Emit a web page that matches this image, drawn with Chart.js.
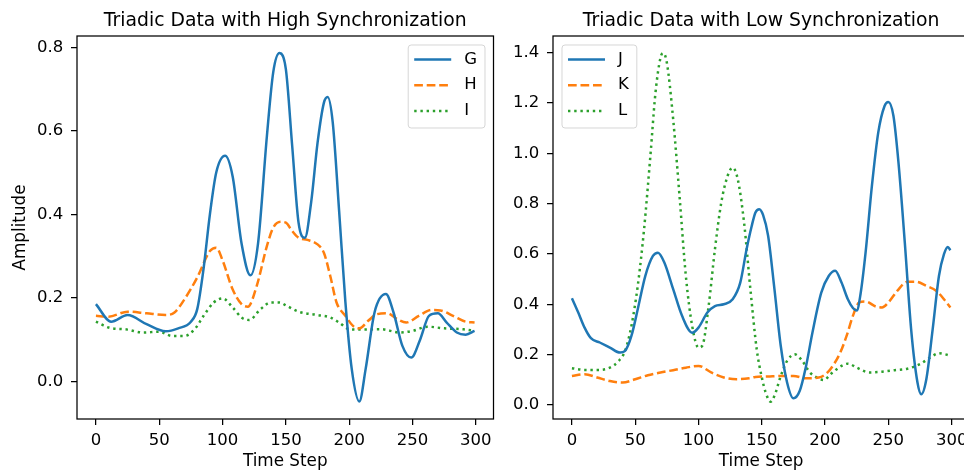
<!DOCTYPE html>
<html>
<head>
<meta charset="utf-8">
<script src="https://cdn.jsdelivr.net/npm/chart.js@4"></script>
<style>
  html, body { margin: 0; padding: 0; background: #fff; overflow: hidden; }
  #wrap { position: relative; width: 964px; height: 473px; overflow: hidden; }
  canvas { position: absolute; top: 0; }
  #high { left: 0; }
  #low { left: 500px; }
</style>
</head>
<body>
<div id="wrap">
  <canvas id="high" width="500" height="473"></canvas>
  <canvas id="low" width="480" height="473"></canvas>
</div>
<script>
// ticks
const xTicks = [0, 50, 100, 150, 200, 250, 300];
const highYTicks = [0, 0.2, 0.4, 0.6, 0.8];
const lowYTicks = [0, 0.2, 0.4, 0.6, 0.8, 1.0, 1.2, 1.4];

// high synchronization
const gTime = [0,12,25,40,55,65,75,80,85,90,95,102,108,115,122,128,135,140,145,150,155,160,165,170,175,180,183,187,192,197,202,208,213,220,229,235,242,249,256,263,270,277,285,292,299];
const gVal  = [.185,.143,.159,.137,.120,.127,.143,.173,.27,.40,.50,.54,.49,.33,.254,.33,.587,.74,.786,.747,.563,.38,.344,.43,.571,.667,.681,.62,.41,.19,.03,-.048,.03,.165,.209,.165,.085,.057,.10,.157,.163,.141,.117,.112,.121];

const hTime = [0,10,25,40,55,62,70,80,90,95,100,108,115,120,127,135,140,146,150,155,160,167,175,180,185,190,197,203,208,215,222,230,238,245,255,265,272,282,292,299];
const hVal  = [.157,.155,.167,.163,.159,.165,.197,.249,.312,.32,.29,.22,.185,.179,.229,.324,.368,.382,.38,.36,.344,.339,.328,.308,.253,.189,.157,.133,.127,.145,.161,.163,.149,.141,.157,.171,.17,.157,.143,.141];

const iTime = [0,10,25,37,50,60,70,78,85,93,100,108,115,121,130,138,145,150,160,175,185,192,200,210,225,240,250,262,275,290,299];
const iVal  = [.143,.129,.124,.117,.119,.109,.109,.125,.157,.189,.199,.177,.153,.147,.173,.189,.189,.182,.167,.159,.153,.141,.125,.124,.125,.117,.121,.131,.127,.125,.121];

// low synchronization
const jTime = [0,5,10,15,22,30,38,42,47,52,58,64,68,73,80,87,95,100,107,113,120,127,133,138,142,145,148,151,155,160,165,170,175,180,185,190,197,203,208,213,218,222,225,228,232,237,242,247,250,254,258,263,268,273,276,280,285,290,294,297,299];
const jVal  = [.424,.367,.307,.265,.248,.228,.208,.215,.274,.38,.513,.592,.605,.566,.46,.354,.287,.307,.367,.393,.40,.42,.486,.619,.71,.765,.778,.755,.672,.46,.234,.089,.026,.056,.155,.287,.446,.513,.533,.486,.42,.385,.375,.44,.605,.87,1.082,1.188,1.204,1.149,.963,.645,.30,.089,.042,.102,.30,.513,.60,.628,.615];

const kTime = [0,10,20,30,40,50,60,70,80,90,100,110,120,130,140,145,155,165,175,185,195,202,207,212,217,222,227,232,240,245,250,257,265,272,280,288,295,299];
const kVal  = [.115,.122,.109,.095,.089,.102,.118,.129,.138,.148,.155,.129,.109,.102,.106,.111,.113,.115,.115,.106,.109,.129,.162,.208,.274,.354,.407,.411,.391,.387,.407,.453,.489,.489,.473,.453,.413,.387];

const lTime = [0,10,20,30,37,42,47,52,57,62,66,70,72,75,80,85,90,95,100,103,108,113,118,123,127,131,136,141,146,150,153,157,160,165,170,176,182,188,195,199,205,213,218,225,235,245,255,265,275,283,290,295,299];
const lVal  = [.146,.139,.139,.148,.175,.215,.314,.473,.698,.99,1.24,1.38,1.398,1.36,1.135,.831,.513,.314,.228,.235,.393,.619,.804,.91,.943,.897,.725,.46,.221,.11,.05,.013,.036,.115,.175,.201,.175,.129,.105,.099,.125,.155,.164,.148,.129,.132,.138,.144,.162,.188,.205,.201,.195];

const FONT = '"DejaVu Sans", sans-serif';
const BLUE = '#1f77b4', ORANGE = '#ff7f0e', GREEN = '#2ca02c';
const DASHED = [8.7, 3.8];
const DOTTED = [2.4, 3.8];

function pts(t, v) {
  return t.map((x, i) => ({ x: x, y: v[i] }));
}

function line(label, t, v, color, dash) {
  return {
    label: label,
    data: pts(t, v),
    borderColor: color,
    borderWidth: 2.5,
    borderDash: dash,
    borderCapStyle: 'butt',
    pointRadius: 0,
    fill: false,
    cubicInterpolationMode: 'monotone'
  };
}

// title, frame and inside legend
const deco = {
  id: 'deco',
  afterDraw(chart, args, opts) {
    const ctx = chart.ctx;
    const ca = chart.chartArea;
    ctx.save();
    ctx.fillStyle = '#000';
    ctx.font = '18.8px ' + FONT;
    ctx.textAlign = 'center';
    ctx.textBaseline = 'alphabetic';
    ctx.fillText(opts.title, (ca.left + ca.right) / 2, 26);

    ctx.strokeStyle = '#000';
    ctx.lineWidth = 1.25;
    ctx.setLineDash([]);
    ctx.strokeRect(ca.left, ca.top, ca.right - ca.left, ca.bottom - ca.top);

    ctx.font = '16.5px ' + FONT;
    const sets = chart.data.datasets;
    let tw = 0;
    sets.forEach(d => { tw = Math.max(tw, ctx.measureText(d.label).width); });
    const bw = 6 + 50 + tw + 8, bh = 83;
    const bx = opts.side === 'right' ? ca.right - 8.5 - bw : ca.left + 9;
    const by = ca.top + 9;
    ctx.beginPath();
    ctx.roundRect(bx, by, bw, bh, 3);
    ctx.fillStyle = 'rgba(255,255,255,0.8)';
    ctx.fill();
    ctx.strokeStyle = 'rgba(204,204,204,0.8)';
    ctx.lineWidth = 1;
    ctx.stroke();
    sets.forEach((d, i) => {
      const y = by + 14.5 + i * 25.7;
      ctx.beginPath();
      ctx.setLineDash(d.borderDash || []);
      ctx.strokeStyle = d.borderColor;
      ctx.lineWidth = 2.5;
      ctx.lineCap = 'butt';
      ctx.moveTo(bx + 6, y);
      ctx.lineTo(bx + 43, y);
      ctx.stroke();
      ctx.setLineDash([]);
      ctx.fillStyle = '#000';
      ctx.textAlign = 'left';
      ctx.textBaseline = 'middle';
      ctx.fillText(d.label, bx + 56, y);
    });
    ctx.restore();
  }
};

function makeChart(id, title, datasets, yTicks, yMin, yMax, yWidth, padRight, yTitle, side) {
  return new Chart(document.getElementById(id), {
    type: 'line',
    data: { datasets: datasets },
    plugins: [deco],
    options: {
      responsive: false,
      animation: false,
      devicePixelRatio: 1,
      events: [],
      layout: { padding: { top: 36, left: 0, right: padRight, bottom: 0 } },
      plugins: {
        legend: { display: false },
        tooltip: { enabled: false },
        title: { display: false },
        deco: { title: title, side: side }
      },
      scales: {
        x: {
          type: 'linear',
          min: -14.95,
          max: 313.95,
          afterBuildTicks: s => { s.ticks = xTicks.map(v => ({ value: v })); },
          afterFit: s => { s.height = 54; },
          border: { display: false },
          grid: { drawOnChartArea: false, drawTicks: true, tickLength: 6, color: '#000', lineWidth: 1.25 },
          ticks: { autoSkip: false, maxRotation: 0, padding: 7.3, color: '#000',
                   font: { family: FONT, size: 16.5, lineHeight: 1 },
                   callback: v => String(v) },
          title: { display: true, text: 'Time Step', color: '#000',
                   font: { family: FONT, size: 16.8, lineHeight: 1.2 },
                   padding: { top: 0, bottom: 1.2 } }
        },
        y: {
          type: 'linear',
          min: yMin,
          max: yMax,
          afterBuildTicks: s => { s.ticks = yTicks.map(v => ({ value: v })); },
          afterFit: s => { s.width = yWidth; },
          border: { display: false },
          grid: { drawOnChartArea: false, drawTicks: true, tickLength: 6, color: '#000', lineWidth: 1.25 },
          ticks: { autoSkip: false, padding: 7.7, color: '#000',
                   font: { family: FONT, size: 16.5, lineHeight: 1 },
                   callback: v => v.toFixed(1) },
          title: { display: !!yTitle, text: yTitle || '', color: '#000',
                   font: { family: FONT, size: 16.8, lineHeight: 1.2 },
                   padding: { top: 11, bottom: 0 } }
        }
      }
    }
  });
}

makeChart('high', 'Triadic Data with High Synchronization', [
  line('G', gTime, gVal, BLUE, []),
  line('H', hTime, hVal, ORANGE, DASHED),
  line('I', iTime, iVal, GREEN, DOTTED)
], highYTicks, -0.09, 0.827, 77, 6.5, 'Amplitude', 'right');

makeChart('low', 'Triadic Data with Low Synchronization', [
  line('J', jTime, jVal, BLUE, []),
  line('K', kTime, kVal, ORANGE, DASHED),
  line('L', lTime, lVal, GREEN, DOTTED)
], lowYTicks, -0.056, 1.466, 53, 10.7, null, 'left');
</script>
</body>
</html>
